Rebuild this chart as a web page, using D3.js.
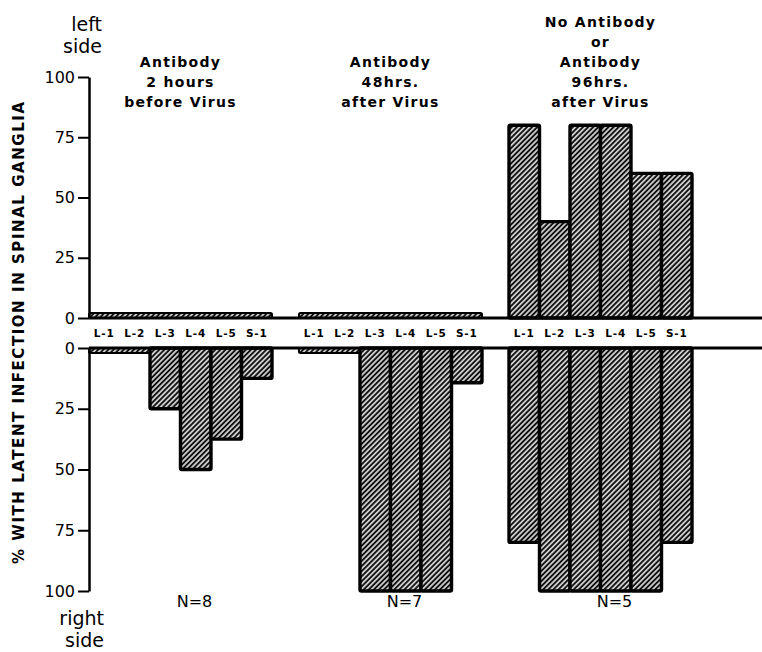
<!DOCTYPE html>
<html>
<head>
<meta charset="utf-8">
<script src="https://cdn.jsdelivr.net/npm/d3@7"></script>
<style>
  body { margin: 0; background: #fff; }
  svg text { font-family: "DejaVu Sans", sans-serif; fill: #000; }
</style>
</head>
<body>
<svg id="chart" width="762" height="652"></svg>
<script>
// values (% of animals with latent infection)
const groups = ["before", "48hrs", "96hrs"];
const groupTitles = [
    ["Antibody", "2 hours", "before Virus"],
    ["Antibody", "48hrs.", "after Virus"],
    ["No Antibody", "or", "Antibody", "96hrs.", "after Virus"]
];
const groupN = ["N=8", "N=7", "N=5"];
const ganglia = ["L-1", "L-2", "L-3", "L-4", "L-5", "S-1"];
const leftSide = [
    [0, 0, 0, 0, 0, 0],
    [0, 0, 0, 0, 0, 0],
    [80, 40, 80, 80, 60, 60]
];
const rightSide = [
    [0, 0, 25, 50, 37.5, 12.5],
    [0, 0, 100, 100, 100, 14.3],
    [80, 100, 100, 100, 100, 80]
];
const yTicks = [0, 25, 50, 75, 100];

const svg = d3.select("#chart");

const axisX = 89;
const x0 = d3.scaleBand().domain(groups).range([axisX, 692]).paddingInner(27 / 210).paddingOuter(0);
const x1 = d3.scaleBand().domain(ganglia).range([0, x0.bandwidth()]).padding(0);
const yTop = d3.scaleLinear().domain([0, 100]).range([318, 77]);
const yBot = d3.scaleLinear().domain([0, 100]).range([348, 591]);

// hatch
const hw = 3.6;
const defs = svg.append("defs");
const pat = defs.append("pattern")
    .attr("id", "hatch")
    .attr("patternUnits", "userSpaceOnUse")
    .attr("width", hw).attr("height", hw)
    .attr("patternTransform", "rotate(45)");
pat.append("rect").attr("width", hw).attr("height", hw).attr("fill", "#fff");
pat.append("line").attr("x1", hw / 2).attr("y1", 0).attr("x2", hw / 2).attr("y2", hw)
    .attr("stroke", "#111").attr("stroke-width", 2.2);

const strip = 5;   // drawn height for a 0% run

function drawSide(values, yScale, up) {
    groups.forEach((g, gi) => {
        const gx = x0(g);
        const vals = values[gi];
        const layer = svg.append("g").attr("transform", `translate(${gx},0)`);

        // runs of zero get one continuous thin strip
        const runs = [];
        vals.forEach((v, i) => {
            if (v === 0) {
                if (runs.length && runs[runs.length - 1].end === i - 1) runs[runs.length - 1].end = i;
                else runs.push({ start: i, end: i });
            }
        });
        layer.selectAll("rect.zero").data(runs).enter().append("rect")
            .attr("class", "zero")
            .attr("x", d => x1(ganglia[d.start]))
            .attr("width", d => x1(ganglia[d.end]) + x1.bandwidth() - x1(ganglia[d.start]))
            .attr("y", up ? yScale(0) - strip : yScale(0))
            .attr("height", strip)
            .attr("rx", 1.5)
            .attr("fill", "url(#hatch)")
            .attr("stroke", "#000").attr("stroke-width", 2);

        const bars = vals.map((v, i) => ({ key: ganglia[i], v: v })).filter(d => d.v > 0);
        layer.selectAll("rect.bar").data(bars).enter().append("rect")
            .attr("class", "bar")
            .attr("x", d => x1(d.key))
            .attr("width", x1.bandwidth())
            .attr("y", d => up ? yScale(d.v) : yScale(0))
            .attr("height", d => Math.abs(yScale(d.v) - yScale(0)))
            .attr("rx", 1.5)
            .attr("fill", "url(#hatch)")
            .attr("stroke", "#000").attr("stroke-width", 3.4);
    });
}

drawSide(leftSide, yTop, true);
drawSide(rightSide, yBot, false);

// zero baselines across the whole width
[yTop(0), yBot(0)].forEach(y => {
    svg.append("line")
        .attr("x1", axisX).attr("x2", 762)
        .attr("y1", y).attr("y2", y)
        .attr("stroke", "#000").attr("stroke-width", 3);
});

// axes
function styleAxis(g) {
    g.select(".domain").attr("stroke", "#000").attr("stroke-width", 2.5);
    g.selectAll(".tick line").attr("stroke", "#000").attr("stroke-width", 2);
    g.selectAll(".tick text")
        .style("font-size", "16px")
        .style("font-family", "DejaVu Sans, sans-serif")
        .attr("fill", "#000");
}
svg.append("g").attr("transform", `translate(${axisX},0)`)
    .call(d3.axisLeft(yTop).tickValues(yTicks).tickSize(11).tickSizeOuter(0).tickPadding(3))
    .call(styleAxis);
svg.append("g").attr("transform", `translate(${axisX},0)`)
    .call(d3.axisLeft(yBot).tickValues(yTicks).tickSize(11).tickSizeOuter(0).tickPadding(3))
    .call(styleAxis);

// ganglion labels in the gap
const midY = (yTop(0) + yBot(0)) / 2;
groups.forEach(g => {
    svg.append("g").selectAll("text").data(ganglia).enter().append("text")
        .attr("x", d => x0(g) + x1(d) + x1.bandwidth() / 2)
        .attr("y", midY + 4)
        .attr("text-anchor", "middle")
        .style("font-size", "10.5px")
        .style("font-weight", "bold")
        .style("letter-spacing", "0.8px")
        .text(d => d);
});

// group titles (bottom-aligned)
groupTitles.forEach((lines, gi) => {
    const cx = x0(groups[gi]) + x0.bandwidth() / 2;
    svg.append("g").selectAll("text").data(lines).enter().append("text")
        .attr("x", cx)
        .attr("y", (d, i) => 107 - (lines.length - 1 - i) * 20)
        .attr("text-anchor", "middle")
        .style("font-size", "14px")
        .style("font-weight", "bold")
        .style("letter-spacing", "1.3px")
        .text(d => d);
});

// N labels
svg.append("g").selectAll("text").data(groupN).enter().append("text")
    .attr("x", (d, i) => x0(groups[i]) + x0.bandwidth() / 2 + 14)
    .attr("y", 607)
    .attr("text-anchor", "middle")
    .style("font-size", "16px")
    .text(d => d);

// side labels
svg.append("g").selectAll("text").data(["left", "side"]).enter().append("text")
    .attr("x", 102).attr("y", (d, i) => 31 + i * 22)
    .attr("text-anchor", "end")
    .style("font-size", "19px")
    .text(d => d);
svg.append("g").selectAll("text").data(["right", "side"]).enter().append("text")
    .attr("x", 104).attr("y", (d, i) => 625 + i * 22)
    .attr("text-anchor", "end")
    .style("font-size", "19px")
    .text(d => d);

// y title
svg.append("text")
    .attr("transform", "translate(24,333) rotate(-90)")
    .attr("text-anchor", "middle")
    .attr("textLength", 462)
    .attr("lengthAdjust", "spacing")
    .style("font-size", "15px")
    .style("font-weight", "bold")
    .text("% WITH LATENT INFECTION IN SPINAL GANGLIA");
</script>
</body>
</html>
